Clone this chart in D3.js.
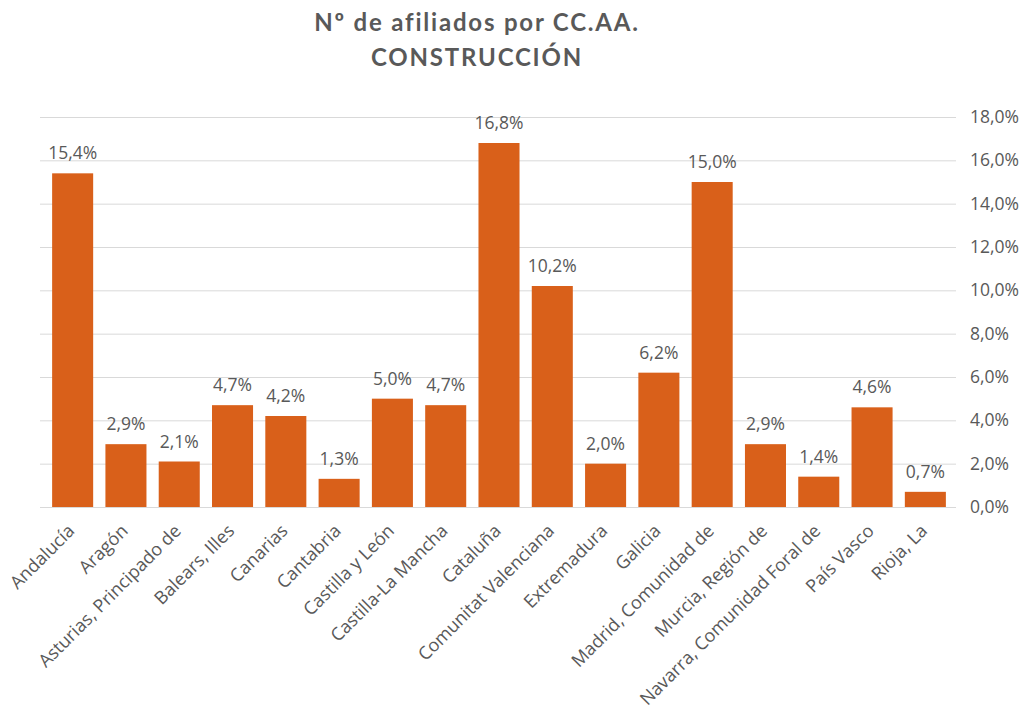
<!DOCTYPE html>
<meta charset="utf-8">
<title>Nº de afiliados por CC.AA. - Construcción</title>
<style>
    body { margin: 0; background: #fff; }
    text { font-family: "Open Sans", sans-serif; fill: #595959; }
    .title { font-family: Lato, sans-serif; font-weight: bold; font-size: 24px; letter-spacing: 1.8px; }
    .grid line { stroke: #d9d9d9; stroke-width: 1; }
    .axis text { font-size: 17.5px; }
    .xaxis text { font-size: 18px; }
    .value { font-size: 17.5px; }
</style>
<svg width="1033" height="716"></svg>
<script src="https://cdnjs.cloudflare.com/ajax/libs/d3/7.8.5/d3.min.js"></script>
<script>

    var regions = ["Andalucía", "Aragón", "Asturias, Principado de", "Balears, Illes", "Canarias",
        "Cantabria", "Castilla y León", "Castilla-La Mancha", "Cataluña", "Comunitat Valenciana",
        "Extremadura", "Galicia", "Madrid, Comunidad de", "Murcia, Región de",
        "Navarra, Comunidad Foral de", "País Vasco", "Rioja, La"];
    var shares = [15.4, 2.9, 2.1, 4.7, 4.2, 1.3, 5.0, 4.7, 16.8, 10.2, 2.0, 6.2, 15.0, 2.9, 1.4, 4.6, 0.7];
    var yTicks = [0, 2, 4, 6, 8, 10, 12, 14, 16, 18];

    var svg = d3.select("svg");
    var plotLeft = 40, plotRight = 956, plotTop = 117, plotBottom = 507;

    var x = d3.scaleBand()
        .domain(regions)
        .range([46, 952])
        .paddingInner(0.23)
        .paddingOuter(0.115);

    var y = d3.scaleLinear()
        .domain([0, 18])
        .range([plotBottom, plotTop]);

    var fmt = function (v) { return d3.format(".1f")(v).replace(".", ",") + "%"; };

    // title
    svg.append("text").attr("class", "title")
        .attr("x", 477).attr("y", 31).attr("text-anchor", "middle")
        .text("Nº de afiliados por CC.AA.");
    svg.append("text").attr("class", "title")
        .attr("x", 477).attr("y", 66).attr("text-anchor", "middle")
        .text("CONSTRUCCIÓN");

    // gridlines
    svg.append("g").attr("class", "grid")
        .selectAll("line")
        .data(yTicks)
        .enter().append("line")
        .attr("x1", plotLeft).attr("x2", plotRight)
        .attr("y1", function (d) { return y(d) + 0.5; })
        .attr("y2", function (d) { return y(d) + 0.5; });

    // right axis
    var yAxis = svg.append("g").attr("class", "axis")
        .attr("transform", "translate(" + plotRight + ",0)")
        .call(d3.axisRight(y).tickValues(yTicks).tickSize(0).tickPadding(14).tickFormat(fmt));
    yAxis.select(".domain").remove();

    // bars
    svg.append("g")
        .selectAll("rect")
        .data(shares)
        .enter().append("rect")
        .attr("x", function (d, i) { return x(regions[i]); })
        .attr("width", x.bandwidth())
        .attr("y", function (d) { return y(d); })
        .attr("height", function (d) { return y(0) - y(d); })
        .attr("fill", "#d9601a");

    // value labels
    svg.append("g")
        .selectAll("text")
        .data(shares)
        .enter().append("text")
        .attr("class", "value")
        .attr("x", function (d, i) { return x(regions[i]) + x.bandwidth() / 2; })
        .attr("y", function (d) { return y(d) - 14; })
        .attr("text-anchor", "middle")
        .text(fmt);

    // category labels
    var xAxis = svg.append("g").attr("class", "axis xaxis")
        .attr("transform", "translate(0," + plotBottom + ")")
        .call(d3.axisBottom(x).tickSize(0).tickPadding(0));
    xAxis.select(".domain").remove();
    xAxis.selectAll("text")
        .attr("text-anchor", "end")
        .attr("dy", null)
        .attr("y", 0)
        .attr("transform", "translate(3,25) rotate(-45)");

</script>
